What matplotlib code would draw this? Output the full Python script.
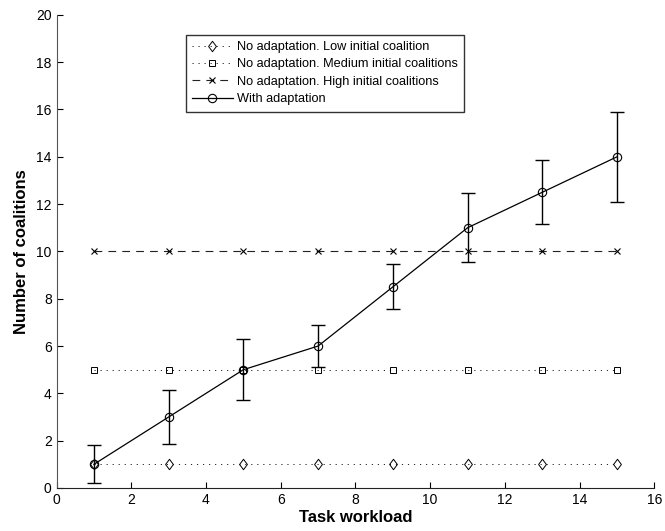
import matplotlib.pyplot as plt
from matplotlib.path import Path

plt.rcParams['font.family'] = ['Liberation Sans', 'DejaVu Sans']

workload = [1, 3, 5, 7, 9, 11, 13, 15]
low = [1, 1, 1, 1, 1, 1, 1, 1]
medium = [5, 5, 5, 5, 5, 5, 5, 5]
high = [10, 10, 10, 10, 10, 10, 10, 10]
adapt = [1, 3, 5, 6, 8.5, 11, 12.5, 14]
adapt_err = [0.8, 1.15, 1.3, 0.9, 0.95, 1.45, 1.35, 1.9]

# matlab-ish diamond (a bit wider than mpl's thin diamond)
diamond = Path([(0, 1), (0.75, 0), (0, -1), (-0.75, 0), (0, 1)],
               [Path.MOVETO, Path.LINETO, Path.LINETO, Path.LINETO, Path.CLOSEPOLY])

fig = plt.figure(figsize=[6.65, 5.31], dpi=100)
ax = fig.add_axes([0.085, 0.081, 0.899, 0.891])

ax.plot(workload, low, color='#222222', lw=0.7, dashes=(1.2, 5), marker=diamond,
        ms=7.5, mfc='none', mec='k', mew=0.7,
        label='No adaptation. Low initial coalition')
ax.plot(workload, medium, color='#222222', lw=0.7, dashes=(1.2, 5), marker='s',
        ms=4.5, mfc='none', mec='k', mew=0.7,
        label='No adaptation. Medium initial coalitions')
ax.plot(workload, high, color='#222222', lw=0.8, dashes=(7, 5.5), marker='x',
        ms=4.5, mec='k', mew=0.8, label='No adaptation. High initial coalitions')
ax.errorbar(workload, adapt, yerr=adapt_err, fmt='none', ecolor='k',
            elinewidth=1.0, capsize=5, capthick=1.0)
ax.plot(workload, adapt, '-', color='k', lw=0.9, marker='o', ms=6, mfc='none',
        mew=0.8, label='With adaptation')

ax.set_xlim(0, 16)
ax.set_ylim(0, 20)
ax.set_xticks(range(0, 17, 2))
ax.set_yticks(range(0, 21, 2))
ax.spines['top'].set_visible(False)
ax.spines['right'].set_visible(False)
ax.spines['left'].set_color('#555555')
ax.spines['bottom'].set_color('#222222')
ax.tick_params(direction='in', length=4, labelsize=10, width=0.8)

ax.set_xlabel('Task workload', fontsize=12, fontweight='bold', labelpad=2)
ax.set_ylabel('Number of coalitions', fontsize=12, fontweight='bold', va='center')
ax.yaxis.set_label_coords(-0.058, 0.5)

leg = ax.legend(loc='upper left', bbox_to_anchor=(0.216, 0.958), fontsize=9.2,
                frameon=True, fancybox=False, edgecolor='k', handlelength=3.2,
                handletextpad=0.3, borderpad=0.5, labelspacing=0.42,
                borderaxespad=0)
leg.get_frame().set_linewidth(1.0)

fig.savefig('out.png', dpi=100)
